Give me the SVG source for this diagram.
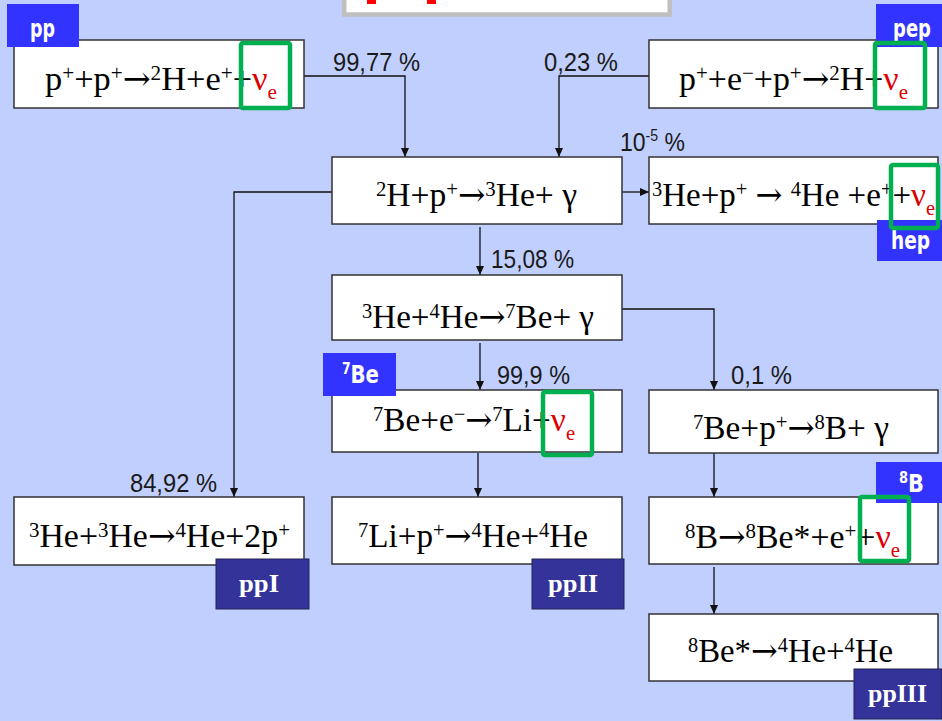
<svg xmlns="http://www.w3.org/2000/svg" width="942" height="721" viewBox="0 0 942 721">
<defs>
<style>
.box{fill:#fff;stroke:#333;stroke-width:1.5}
.eq{font-family:"Liberation Serif","Times New Roman",serif;font-size:34px;fill:#000}
.s{font-size:21px}
.ar{font-family:"DejaVu Serif",serif;font-size:33px}
.nu{fill:#dd0000}
.nb{fill:none;stroke:#00b050;stroke-width:4.5}
.lab{fill:#3333ff}
.labt{font-family:"DejaVu Sans",sans-serif;font-weight:bold;font-size:24px;fill:#fff}
.pl{fill:#333399;stroke:#222255;stroke-width:1}
.plt{font-family:"Liberation Serif","Times New Roman",serif;font-weight:bold;font-size:26px;fill:#fff}
.con{fill:none;stroke:#111;stroke-width:1.3}
.pct{font-family:"Liberation Sans",Arial,sans-serif;font-size:26px;fill:#1a1a1a}
</style>
<marker id="ah" markerUnits="userSpaceOnUse" markerWidth="9" markerHeight="8" refX="9" refY="4" orient="auto">
<path d="M0,0 L9,4 L0,8 z" fill="#111"/>
</marker>
</defs>
<rect x="0" y="0" width="942" height="721" fill="#c0cffd"/>
<g id="title">
<rect x="344.2" y="-10" width="325.5" height="24.5" fill="#fff" stroke="#bfbfbf" stroke-width="4.5"/>
<rect x="367" y="0" width="9" height="4" fill="#ff0000"/>
<rect x="427" y="0" width="9" height="4" fill="#ff0000"/>
</g>
<g id="connectors">
<polyline class="con" points="304,76 405,76 405,157" marker-end="url(#ah)"/>
<polyline class="con" points="649,76 559,76 559,157" marker-end="url(#ah)"/>
<line class="con" x1="622" y1="192" x2="649" y2="192" marker-end="url(#ah)"/>
<line class="con" x1="480" y1="227" x2="480" y2="275" marker-end="url(#ah)"/>
<polyline class="con" points="332,192 234,192 234,497" marker-end="url(#ah)"/>
<polyline class="con" points="622,309 714,309 714,390" marker-end="url(#ah)"/>
<line class="con" x1="480" y1="343" x2="480" y2="390" marker-end="url(#ah)"/>
<line class="con" x1="478" y1="453" x2="478" y2="497" marker-end="url(#ah)"/>
<line class="con" x1="714" y1="453" x2="714" y2="497" marker-end="url(#ah)"/>
<line class="con" x1="714" y1="567" x2="714" y2="614" marker-end="url(#ah)"/>
<text class="pct" x="333" y="71" textLength="87" lengthAdjust="spacingAndGlyphs">99,77 %</text>
<text class="pct" x="544" y="71" textLength="74" lengthAdjust="spacingAndGlyphs">0,23 %</text>
<text class="pct" x="620" y="151" textLength="65" lengthAdjust="spacingAndGlyphs">10<tspan font-size="16" dy="-10">-5</tspan><tspan dy="10"> %</tspan></text>
<text class="pct" x="491" y="268" textLength="83" lengthAdjust="spacingAndGlyphs">15,08 %</text>
<text class="pct" x="497" y="384" textLength="73" lengthAdjust="spacingAndGlyphs">99,9 %</text>
<text class="pct" x="731" y="384" textLength="61" lengthAdjust="spacingAndGlyphs">0,1 %</text>
<text class="pct" x="130" y="492" textLength="87" lengthAdjust="spacingAndGlyphs">84,92 %</text>
</g>
<g id="n-pp">
<rect class="box" x="14" y="40" width="290" height="68"/>
<text class="eq" x="45" y="90" textLength="232" lengthAdjust="spacingAndGlyphs">p<tspan class="s" dy="-10">+</tspan><tspan dy="10">+p</tspan><tspan class="s" dy="-10">+</tspan><tspan class="ar" dy="10">→</tspan><tspan class="s" dy="-10">2</tspan><tspan dy="10">H+e</tspan><tspan class="s" dy="-10">+</tspan><tspan dy="10">+</tspan><tspan class="nu">ν</tspan><tspan class="nu s" dy="9">e</tspan></text>
<rect class="lab" x="7" y="4" width="72" height="43"/>
<text class="labt" x="30" y="37" textLength="25" lengthAdjust="spacingAndGlyphs">pp</text>
<rect class="nb" x="241" y="43" width="49" height="65" rx="2"/>
</g>
<g id="n-pep">
<rect class="box" x="649" y="40" width="289" height="68"/>
<text class="eq" x="679" y="90" textLength="229" lengthAdjust="spacingAndGlyphs">p<tspan class="s" dy="-10">+</tspan><tspan dy="10">+e</tspan><tspan class="s" dy="-10">−</tspan><tspan dy="10">+p</tspan><tspan class="s" dy="-10">+</tspan><tspan class="ar" dy="10">→</tspan><tspan class="s" dy="-10">2</tspan><tspan dy="10">H+</tspan><tspan class="nu">ν</tspan><tspan class="nu s" dy="9">e</tspan></text>
<rect class="lab" x="876" y="4" width="66" height="43"/>
<text class="labt" x="893" y="37" textLength="38" lengthAdjust="spacingAndGlyphs">pep</text>
<rect class="nb" x="875" y="43" width="50" height="65" rx="2"/>
</g>
<g id="n-2h">
<rect class="box" x="332" y="157" width="290" height="67"/>
<text class="eq" x="376" y="206" textLength="201" lengthAdjust="spacingAndGlyphs"><tspan class="s" dy="-10">2</tspan><tspan dy="10">H+p</tspan><tspan class="s" dy="-10">+</tspan><tspan class="ar" dy="10">→</tspan><tspan class="s" dy="-10">3</tspan><tspan dy="10">He+ γ</tspan></text>
</g>
<g id="n-hep">
<rect class="box" x="649" y="157" width="289" height="67"/>
<text class="eq" x="652" y="206" textLength="283" lengthAdjust="spacingAndGlyphs"><tspan class="s" dy="-10">3</tspan><tspan dy="10">He+p</tspan><tspan class="s" dy="-10">+</tspan><tspan dy="10"> </tspan><tspan class="ar">→</tspan><tspan> </tspan><tspan class="s" dy="-10">4</tspan><tspan dy="10">He +e</tspan><tspan class="s" dy="-10">+</tspan><tspan dy="10">+</tspan><tspan class="nu">ν</tspan><tspan class="nu s" dy="9">e</tspan></text>
<rect class="lab" x="877" y="220" width="65" height="41"/>
<text class="labt" x="891" y="249" textLength="39" lengthAdjust="spacingAndGlyphs">hep</text>
<rect class="nb" x="891" y="165" width="47" height="63" rx="2"/>
</g>
<g id="n-he3he4">
<rect class="box" x="332" y="275" width="290" height="65"/>
<text class="eq" x="362" y="328" textLength="232" lengthAdjust="spacingAndGlyphs"><tspan class="s" dy="-10">3</tspan><tspan dy="10">He+</tspan><tspan class="s" dy="-10">4</tspan><tspan dy="10">He</tspan><tspan class="ar">→</tspan><tspan class="s" dy="-10">7</tspan><tspan dy="10">Be+ γ</tspan></text>
</g>
<g id="n-be7e">
<rect class="box" x="332" y="390" width="290" height="62"/>
<text class="eq" x="373" y="431" textLength="202" lengthAdjust="spacingAndGlyphs"><tspan class="s" dy="-10">7</tspan><tspan dy="10">Be+e</tspan><tspan class="s" dy="-10">−</tspan><tspan class="ar" dy="10">→</tspan><tspan class="s" dy="-10">7</tspan><tspan dy="10">Li+</tspan><tspan class="nu">ν</tspan><tspan class="nu s" dy="9">e</tspan></text>
<rect class="lab" x="323" y="353" width="73" height="43"/>
<text class="labt" x="342" y="383" textLength="37" lengthAdjust="spacingAndGlyphs"><tspan font-size="15" dy="-9">7</tspan><tspan dy="9">Be</tspan></text>
<rect class="nb" x="543" y="392" width="49" height="63" rx="2"/>
</g>
<g id="n-be7p">
<rect class="box" x="649" y="390" width="289" height="63"/>
<text class="eq" x="693" y="439" textLength="196" lengthAdjust="spacingAndGlyphs"><tspan class="s" dy="-10">7</tspan><tspan dy="10">Be+p</tspan><tspan class="s" dy="-10">+</tspan><tspan class="ar" dy="10">→</tspan><tspan class="s" dy="-10">8</tspan><tspan dy="10">B+ γ</tspan></text>
</g>
<g id="n-he3he3">
<rect class="box" x="14" y="497" width="290" height="68"/>
<text class="eq" x="29" y="547" textLength="261" lengthAdjust="spacingAndGlyphs"><tspan class="s" dy="-10">3</tspan><tspan dy="10">He+</tspan><tspan class="s" dy="-10">3</tspan><tspan dy="10">He</tspan><tspan class="ar">→</tspan><tspan class="s" dy="-10">4</tspan><tspan dy="10">He+2p</tspan><tspan class="s" dy="-10">+</tspan></text>
<rect class="pl" x="216" y="559" width="93" height="50"/>
<text class="plt" x="239" y="592" textLength="40" lengthAdjust="spacingAndGlyphs">ppI</text>
</g>
<g id="n-li7">
<rect class="box" x="332" y="497" width="290" height="67"/>
<text class="eq" x="358" y="547" textLength="230" lengthAdjust="spacingAndGlyphs"><tspan class="s" dy="-10">7</tspan><tspan dy="10">Li+p</tspan><tspan class="s" dy="-10">+</tspan><tspan class="ar" dy="10">→</tspan><tspan class="s" dy="-10">4</tspan><tspan dy="10">He+</tspan><tspan class="s" dy="-10">4</tspan><tspan dy="10">He</tspan></text>
<rect class="pl" x="532" y="559" width="92" height="50"/>
<text class="plt" x="548" y="592" textLength="50" lengthAdjust="spacingAndGlyphs">ppII</text>
</g>
<g id="n-b8">
<rect class="box" x="649" y="497" width="289" height="67"/>
<text class="eq" x="685" y="548" textLength="215" lengthAdjust="spacingAndGlyphs"><tspan class="s" dy="-10">8</tspan><tspan dy="10">B</tspan><tspan class="ar">→</tspan><tspan class="s" dy="-10">8</tspan><tspan dy="10">Be*+e</tspan><tspan class="s" dy="-10">+</tspan><tspan dy="10">+</tspan><tspan class="nu">ν</tspan><tspan class="nu s" dy="9">e</tspan></text>
<rect class="lab" x="876" y="462" width="66" height="41"/>
<text class="labt" x="899" y="492" textLength="25" lengthAdjust="spacingAndGlyphs"><tspan font-size="15" dy="-9">8</tspan><tspan dy="9">B</tspan></text>
<rect class="nb" x="860" y="497" width="49" height="64" rx="2"/>
</g>
<g id="n-be8">
<rect class="box" x="649" y="614" width="289" height="67"/>
<text class="eq" x="688" y="662" textLength="205" lengthAdjust="spacingAndGlyphs"><tspan class="s" dy="-10">8</tspan><tspan dy="10">Be*</tspan><tspan class="ar">→</tspan><tspan class="s" dy="-10">4</tspan><tspan dy="10">He+</tspan><tspan class="s" dy="-10">4</tspan><tspan dy="10">He</tspan></text>
<rect class="pl" x="854" y="669" width="88" height="50"/>
<text class="plt" x="868" y="702" textLength="59" lengthAdjust="spacingAndGlyphs">ppIII</text>
</g>
</svg>
